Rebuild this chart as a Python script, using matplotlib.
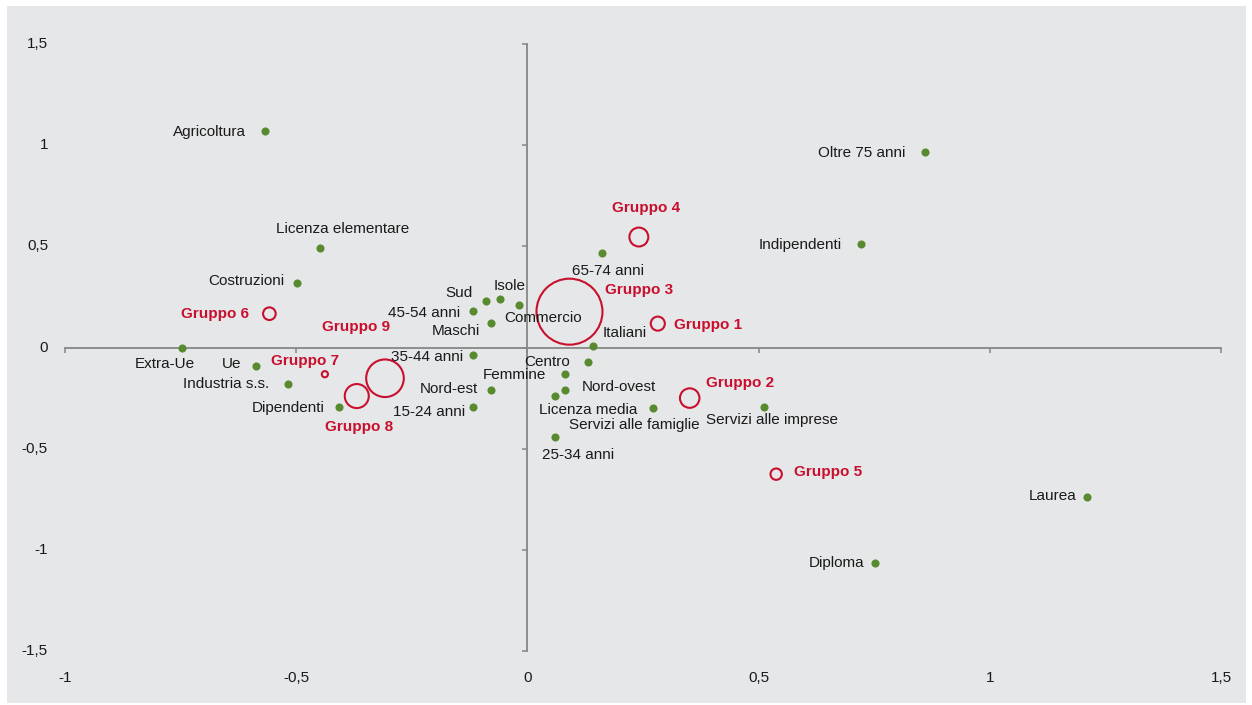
import matplotlib
matplotlib.use('Agg')
import matplotlib.pyplot as plt
from matplotlib.patches import Rectangle
from matplotlib.transforms import blended_transform_factory, offset_copy

plt.rcParams['font.family'] = ['Liberation Sans', 'DejaVu Sans']

# ---------------- data ----------------
categories = ['Agricoltura', 'Oltre 75 anni', 'Indipendenti', 'Licenza elementare',
              'Costruzioni', '65-74 anni', 'Sud', 'Isole', 'Commercio', '45-54 anni',
              'Maschi', 'Italiani', 'Extra-Ue', 'Ue', '35-44 anni', 'Centro', 'Femmine',
              'Industria s.s.', 'Nord-est', 'Nord-ovest', 'Licenza media',
              'Servizi alle famiglie', 'Dipendenti', '15-24 anni', 'Servizi alle imprese',
              '25-34 anni', 'Laurea', 'Diploma']
cat_x = [-0.567, 0.860, 0.721, -0.449, -0.498, 0.161, -0.090, -0.060, -0.018, -0.118,
         -0.079, 0.142, -0.747, -0.587, -0.118, 0.131, 0.081, -0.518, -0.079, 0.081,
         0.060, 0.272, -0.408, -0.118, 0.512, 0.060, 1.210, 0.752]
cat_y = [1.070, 0.966, 0.512, 0.492, 0.319, 0.467, 0.230, 0.240, 0.210, 0.180,
         0.121, 0.007, 0.000, -0.091, -0.037, -0.072, -0.131, -0.180, -0.210, -0.210,
         -0.240, -0.299, -0.294, -0.294, -0.294, -0.442, -0.739, -1.066]

groups = ['Gruppo 1', 'Gruppo 2', 'Gruppo 3', 'Gruppo 4', 'Gruppo 5',
          'Gruppo 6', 'Gruppo 7', 'Gruppo 8', 'Gruppo 9']
group_x = [0.282, 0.351, 0.091, 0.241, 0.538, -0.558, -0.438, -0.369, -0.308]
group_y = [0.118, -0.250, 0.177, 0.546, -0.626, 0.167, -0.132, -0.240, -0.152]
group_weight = [2.6, 5.0, 57.3, 4.7, 1.7, 2.1, 0.5, 7.6, 18.6]

x_ticks = [-1, -0.5, 0, 0.5, 1, 1.5]
x_tick_labels = ['-1', '-0,5', '0', '0,5', '1', '1,5']
y_ticks = [-1.5, -1, -0.5, 0, 0.5, 1, 1.5]
y_tick_labels = ['-1,5', '-1', '-0,5', '0', '0,5', '1', '1,5']

# ---------------- label placement (pixel offsets of label centre) ----------------
cat_offsets = [(-56, -1), (-63, -1), (-61, -1), (23, 19), (-51, 2), (6, -18),
               (-27, 8), (10, 13), (24, -13), (-49, -2), (-35, -8), (32, 13),
               (-17, -16), (-24, 2), (-46, -2), (-41, 0), (-50, -1), (-62, 0),
               (-42, 1), (54, 3), (33, -14), (-19, -17), (-51, -1), (-44, -5),
               (8, -13), (23, -18), (-34, 1), (-39, 0)]
group_offsets = [(50, -1), (50, 15), (70, 22), (7, 29), (52, 2),
                 (-54, 0), (-20, 13), (2, -31), (-29, 51)]

GREEN = '#5A8A2F'
RED = '#C8102E'
BG = '#E6E7E9'
AXIS = '#868686'

W, H = 1252, 705
fig = plt.figure(figsize=(W / 100, H / 100), dpi=100)
fig.patch.set_facecolor('white')
fig.patches.append(Rectangle((7 / W, 2 / H), 1239 / W, 697 / H,
                             transform=fig.transFigure, facecolor=BG,
                             edgecolor='none', zorder=-10))

ax = fig.add_axes([65 / W, (H - 651) / H, (1221 - 65) / W, (651 - 44) / H])
ax.set_zorder(5)
ax.set_facecolor('none')
ax.set_xlim(-1, 1.5)
ax.set_ylim(-1.5, 1.5)

for s in ['top', 'right']:
    ax.spines[s].set_visible(False)
ax.spines['left'].set_position(('data', 0))
ax.spines['bottom'].set_position(('data', 0))
for s in ['left', 'bottom']:
    ax.spines[s].set_color(AXIS)
    ax.spines[s].set_linewidth(1.3)
ax.set_xticks(x_ticks)
ax.set_yticks(y_ticks)
ax.tick_params(axis='both', direction='out', length=3.8, width=1.1, color=AXIS,
               labelbottom=False, labelleft=False)

# tick labels along the outer edges
tx = offset_copy(blended_transform_factory(ax.transData, ax.transAxes), fig=fig,
                 x=0, y=-27, units='dots')
for v, lab in zip(x_ticks, x_tick_labels):
    ax.text(v, 0, lab, transform=tx, ha='center', va='center', fontsize=11,
            color='#1a1a1a', clip_on=False)
ty = offset_copy(blended_transform_factory(ax.transAxes, ax.transData), fig=fig,
                 x=-17, y=0, units='dots')
for v, lab in zip(y_ticks, y_tick_labels):
    ax.text(0, v, lab, transform=ty, ha='right', va='center', fontsize=11,
            color='#1a1a1a', clip_on=False)

# category points
ax.scatter(cat_x, cat_y, s=34, color=GREEN, zorder=3, linewidths=0, clip_on=False)
for name, x, y, (dx, dy) in zip(categories, cat_x, cat_y, cat_offsets):
    ax.annotate(name, (x, y), xytext=(dx, dy), textcoords='offset pixels',
                ha='center', va='center', fontsize=11, color='#1a1a1a', zorder=5)

# groups (bubbles)
sizes = [39.4 * w for w in group_weight]
ax.scatter(group_x, group_y, s=sizes, facecolors='none', edgecolors=RED,
           linewidths=1.5, zorder=4)
for name, x, y, (dx, dy) in zip(groups, group_x, group_y, group_offsets):
    ax.annotate(name, (x, y), xytext=(dx, dy), textcoords='offset pixels',
                ha='center', va='center', fontsize=11, fontweight='bold',
                color=RED, zorder=5)

fig.savefig('out.png', dpi=100)
